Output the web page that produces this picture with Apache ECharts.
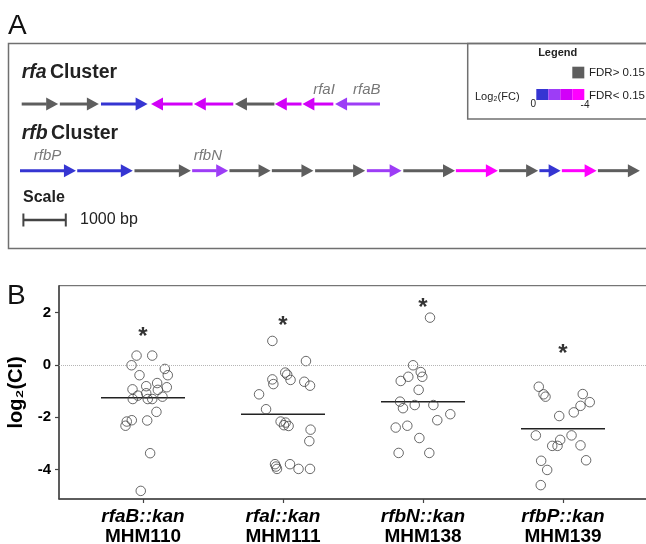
<!DOCTYPE html>
<html><head><meta charset="utf-8">
<script src="https://cdn.jsdelivr.net/npm/echarts@6/dist/echarts.min.js"></script>
<style>html,body{margin:0;padding:0;background:#fff}#c{width:646px;height:544px}</style>
</head><body><div id="c"></div>
<script>
// ---------------- Panel A data ----------------
const geneRows = ['rfa', 'rfb'];
// [row, start bp, end bp, strand, log2FC bin (0 = FDR > 0.15)]
const rfaGenes = [
  [0, 40, 900, 1, 0],
  [0, 940, 1860, 1, 0],
  [0, 1910, 3010, 1, 1],
  [0, 3090, 4070, -1, 3],
  [0, 4100, 5030, -1, 3],
  [0, 5070, 6000, -1, 0],
  [0, 6010, 6640, -1, 3],
  [0, 6660, 7390, -1, 3],
  [0, 7430, 8490, -1, 2]
];
const rfbGenes = [
  [1, 0, 1320, 1, 1],
  [1, 1350, 2660, 1, 1],
  [1, 2700, 4030, 1, 0],
  [1, 4060, 4910, 1, 2],
  [1, 4940, 5910, 1, 0],
  [1, 5940, 6920, 1, 0],
  [1, 6960, 8140, 1, 0],
  [1, 8180, 9000, 1, 2],
  [1, 9040, 10260, 1, 0],
  [1, 10280, 11270, 1, 4],
  [1, 11300, 12220, 1, 0],
  [1, 12250, 12750, 1, 1],
  [1, 12780, 13600, 1, 4],
  [1, 13630, 14620, 1, 0]
];
// [label centre bp, row, name]
const geneLabels = [
  [7170, 0, 'rfaI'],
  [8180, 0, 'rfaB'],
  [650, 1, 'rfbP'],
  [4430, 1, 'rfbN']
];
const scaleStartBp = 80;
const scaleLengthBp = 1000;

// ---------------- Panel B data ----------------
const strains = ['rfaB', 'rfaI', 'rfbN', 'rfbP'];
const strainIds = ['MHM110', 'MHM111', 'MHM138', 'MHM139'];
const ciRfaB = [0.36,0.36,-0.01,-0.15,-0.39,-0.39,-0.81,-0.69,-0.85,-0.93,-1.08,-0.95,-1.17,-1.30,-1.30,-1.30,-1.21,-1.79,-2.11,-2.16,-2.32,-2.12,-3.37,-4.81];
const jitRfaB = [-0.046,0.066,-0.082,0.156,0.177,-0.025,0.023,0.101,0.17,-0.075,0.023,0.106,-0.037,-0.073,0.034,0.066,0.139,0.096,-0.08,-0.116,-0.125,0.03,0.051,-0.016];
const ciRfaI = [0.92,0.15,-0.29,-0.37,-0.57,-0.55,-0.73,-0.64,-0.79,-1.12,-1.69,-2.16,-2.20,-2.30,-2.33,-2.47,-2.91,-3.79,-3.88,-3.97,-3.79,-3.97,-3.97];
const jitRfaI = [-0.076,0.164,0.016,0.03,0.054,-0.076,-0.069,0.152,0.193,-0.171,-0.121,-0.017,0.019,0.007,0.04,0.197,0.188,-0.057,-0.05,-0.043,0.05,0.111,0.193];
const ciRfbN = [1.81,-0.01,-0.27,-0.45,-0.45,-0.61,-0.95,-1.40,-1.65,-1.53,-1.53,-1.88,-2.11,-2.32,-2.39,-2.79,-3.36,-3.36];
const jitRfbN = [0.05,-0.071,-0.016,-0.005,-0.105,-0.159,-0.031,-0.164,-0.143,-0.059,0.074,0.195,0.102,-0.112,-0.195,-0.026,-0.174,0.045];
const ciRfbP = [-0.83,-1.12,-1.21,-1.11,-1.42,-1.56,-1.81,-1.95,-2.69,-2.69,-2.86,-3.09,-3.09,-3.07,-3.66,-3.64,-4.01,-4.59];
const jitRfbP = [-0.173,-0.139,-0.125,0.141,0.191,0.125,0.077,-0.027,-0.194,0.061,-0.02,-0.077,-0.039,0.125,-0.156,0.165,-0.113,-0.159];
const ciMeans = [-1.25, -1.88, -1.40, -2.44];
const starLevels = [1.26, 1.65, 2.35, 0.60];
const yTicks = [-4, -2, 0, 2];

// ---------------- build ----------------
const FONT = '"Liberation Sans", Arial, Helvetica, sans-serif';
const binColors = ['#5e5e5e', '#3535d2', '#9d3df6', '#d200f8', '#ff00ff'];
const ciValues = [ciRfaB, ciRfaI, ciRfbN, ciRfbP];
const ciJitter = [jitRfaB, jitRfaI, jitRfbN, jitRfbP];
const ciPoints = [];
ciValues.forEach((vals, g) => vals.forEach((v, j) => ciPoints.push([g + ciJitter[g][j], v])));

function geneItem(params, api) {
  const row = api.value(0), s = api.value(1), e = api.value(2), dir = api.value(3), bin = api.value(4);
  const a = api.coord([s, row]), b = api.coord([e, row]);
  const y = a[1], x0 = a[0], x1 = b[0];
  const head = Math.min(12, (x1 - x0) * 0.6), hh = 6.5, th = 3;
  const color = binColors[bin];
  let shaft, tri;
  if (dir > 0) {
    shaft = {x: x0, y: y - th / 2, width: x1 - head - x0 + 0.5, height: th};
    tri = [[x1, y], [x1 - head, y - hh], [x1 - head, y + hh]];
  } else {
    shaft = {x: x0 + head - 0.5, y: y - th / 2, width: x1 - x0 - head + 0.5, height: th};
    tri = [[x0, y], [x0 + head, y - hh], [x0 + head, y + hh]];
  }
  return {type: 'group', children: [
    {type: 'rect', shape: shaft, style: {fill: color}},
    {type: 'polygon', shape: {points: tri}, style: {fill: color}}
  ]};
}

function meanItem(params, api) {
  const g = api.value(0), m = api.value(1);
  const a = api.coord([g - 0.3, m]), b = api.coord([g + 0.3, m]);
  return {type: 'line', shape: {x1: a[0], y1: a[1], x2: b[0], y2: b[1]},
    style: {stroke: '#222', lineWidth: 1.5}};
}

const chart = echarts.init(document.getElementById('c'));
chart.setOption({
  animation: false,
  textStyle: {fontFamily: FONT},
  grid: [
    {left: 20, width: 636, top: 70.7, height: 133.3, outerBoundsMode: 'none', containLabel: false},
    {left: 59, top: 285.7, width: 588, height: 213.3, outerBoundsMode: 'none', containLabel: false,
      show: true, borderColor: '#555', borderWidth: 1, backgroundColor: 'transparent'}
  ],
  xAxis: [
    {gridIndex: 0, type: 'value', min: 0, max: 15000, show: false},
    {gridIndex: 1, type: 'value', min: -0.6, max: 3.6,
      axisLine: {show: true, onZero: false, lineStyle: {color: '#444', width: 1.5}},
      axisTick: {show: true, customValues: [0, 1, 2, 3], length: 4, lineStyle: {color: '#444', width: 1.2}},
      splitLine: {show: false},
      axisLabel: {customValues: [0, 1, 2, 3], margin: 8, color: '#000',
        formatter: v => { const i = Math.round(v); return '{i|' + strains[i] + '::kan}\n{b|' + strainIds[i] + '}'; },
        rich: {
          i: {fontFamily: FONT, fontStyle: 'italic', fontWeight: 'bold', fontSize: 19, lineHeight: 20, color: '#000'},
          b: {fontFamily: FONT, fontWeight: 'bold', fontSize: 19, lineHeight: 20, color: '#000'}
        }}
    }
  ],
  yAxis: [
    {gridIndex: 0, type: 'category', data: geneRows, inverse: true, show: false},
    {gridIndex: 1, type: 'value', min: -5.12, max: 3.03,
      name: 'log₂(CI)', nameLocation: 'middle', nameGap: 28,
      nameTextStyle: {fontFamily: FONT, fontWeight: 'bold', fontSize: 20, color: '#000'},
      axisLine: {show: true, onZero: false, lineStyle: {color: '#444', width: 1.5}},
      axisTick: {show: true, customValues: yTicks, length: 4, lineStyle: {color: '#444', width: 1.2}},
      splitLine: {show: false},
      axisLabel: {customValues: yTicks, margin: 8, fontWeight: 'bold', fontSize: 15, color: '#000', fontFamily: FONT}
    }
  ],
  series: [
    {type: 'custom', xAxisIndex: 0, yAxisIndex: 0, renderItem: geneItem,
      data: rfaGenes.concat(rfbGenes), encode: {x: [1, 2], y: 0}, silent: true},
    {type: 'scatter', xAxisIndex: 0, yAxisIndex: 0, symbolSize: 0, data: geneLabels, silent: true,
      label: {show: true, position: 'inside', offset: [0, -14.5], formatter: p => p.value[2],
        fontFamily: FONT, fontStyle: 'italic', fontSize: 15, color: '#555'}},
    {type: 'scatter', xAxisIndex: 1, yAxisIndex: 1, data: ciPoints, symbol: 'circle', symbolSize: 9.5,
      itemStyle: {color: 'rgba(0,0,0,0)', borderColor: '#444', borderWidth: 1}, silent: true,
      markLine: {silent: true, symbol: 'none', label: {show: false},
        lineStyle: {type: 'dotted', color: '#b5b5b5', width: 1}, data: [{yAxis: 0}]}},
    {type: 'custom', xAxisIndex: 1, yAxisIndex: 1, renderItem: meanItem,
      data: ciMeans.map((m, i) => [i, m]), silent: true},
    {type: 'scatter', xAxisIndex: 1, yAxisIndex: 1, symbolSize: 0, silent: true,
      data: starLevels.map((s, i) => [i, s]),
      label: {show: true, position: 'inside', offset: [0, 5], formatter: '*',
        fontFamily: FONT, fontWeight: 'bold', fontSize: 24, color: '#000'}}
  ]
});

const sx0 = chart.convertToPixel({xAxisIndex: 0}, scaleStartBp);
const sx1 = chart.convertToPixel({xAxisIndex: 0}, scaleStartBp + scaleLengthBp);
const txt = (text, x, y, font, opts) => Object.assign({type: 'text', x: x, y: y,
  style: Object.assign({text: text, font: font, fill: '#222', textAlign: 'left', textVerticalAlign: 'middle'}, opts || {})});

const graphics = [
  {type: 'rect', shape: {x: 8.5, y: 43.5, width: 660, height: 205}, style: {fill: 'none', stroke: '#707070', lineWidth: 1.5}},
  {type: 'rect', shape: {x: 467.7, y: 43.5, width: 200, height: 75.5}, style: {fill: 'none', stroke: '#707070', lineWidth: 1.5}},
  txt('A', 8, 26, 'normal 28px ' + FONT, {fill: '#111'}),
  txt('B', 7, 296, 'normal 28px ' + FONT, {fill: '#111'}),
  {type: 'text', x: 21.7, y: 72.5, style: {text: '{i|rfa} {b|Cluster}', textVerticalAlign: 'middle',
    rich: {i: {fontFamily: FONT, fontStyle: 'italic', fontWeight: 'bold', fontSize: 19.5, fill: '#222'},
           b: {fontFamily: FONT, fontWeight: 'bold', fontSize: 19.5, fill: '#222'}}}},
  {type: 'text', x: 21.7, y: 133.5, style: {text: '{i|rfb} {b|Cluster}', textVerticalAlign: 'middle',
    rich: {i: {fontFamily: FONT, fontStyle: 'italic', fontWeight: 'bold', fontSize: 19.5, fill: '#222'},
           b: {fontFamily: FONT, fontWeight: 'bold', fontSize: 19.5, fill: '#222'}}}},
  txt('Scale', 23, 197.5, 'bold 16px ' + FONT),
  txt('1000 bp', 80, 220, 'normal 16px ' + FONT),
  {type: 'line', shape: {x1: sx0, y1: 220, x2: sx1, y2: 220}, style: {stroke: '#444', lineWidth: 2.5}},
  {type: 'line', shape: {x1: sx0, y1: 213.5, x2: sx0, y2: 226.5}, style: {stroke: '#444', lineWidth: 2}},
  {type: 'line', shape: {x1: sx1, y1: 213.5, x2: sx1, y2: 226.5}, style: {stroke: '#444', lineWidth: 2}},
  txt('Legend', 557.7, 52.5, 'bold 11px ' + FONT, {textAlign: 'center'}),
  {type: 'rect', shape: {x: 572.3, y: 66.7, width: 12, height: 11.7}, style: {fill: binColors[0]}},
  txt('FDR> 0.15', 589, 72.5, 'normal 11.5px ' + FONT),
  txt('Log₂(FC)', 475, 97, 'normal 11px ' + FONT),
  txt('FDR< 0.15', 589, 95.5, 'normal 11.5px ' + FONT),
  txt('0', 533.3, 104, 'normal 10px ' + FONT, {textAlign: 'center'}),
  txt('-4', 585, 105, 'normal 10px ' + FONT, {textAlign: 'center'})
];
for (let i = 1; i <= 4; i++) {
  graphics.push({type: 'rect', shape: {x: 536.3 + (i - 1) * 12, y: 89, width: 12, height: 11}, style: {fill: binColors[i]}});
}
chart.setOption({graphic: graphics});
</script>
</body></html>
